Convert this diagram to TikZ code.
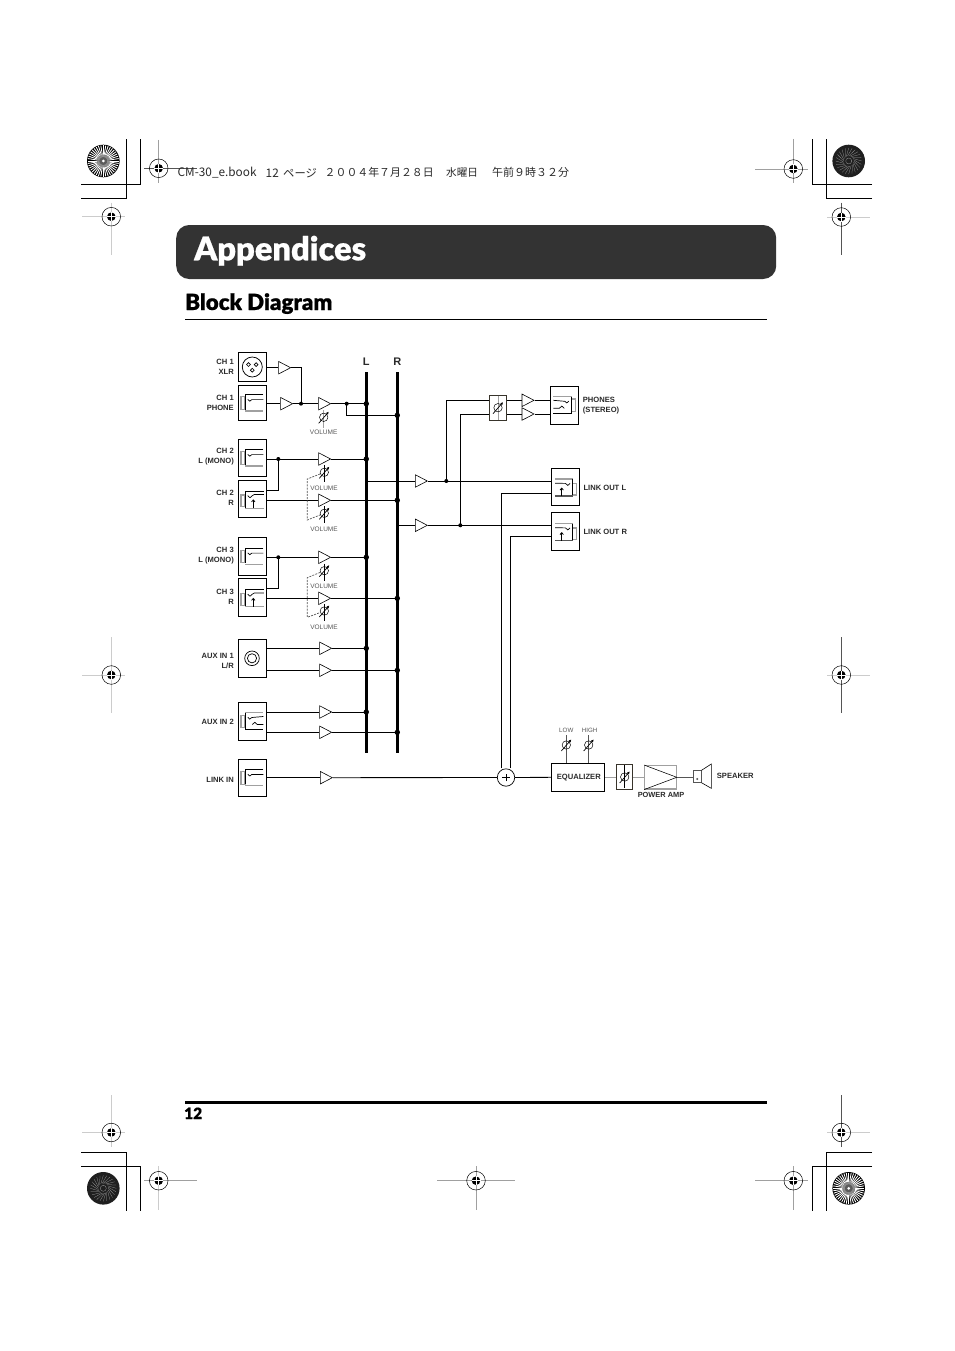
\documentclass[tikz,border=0pt]{standalone}
\usepackage{fontspec}
\setmainfont{Liberation Sans}
\newfontfamily\cjk{Noto Sans CJK JP}
\newfontfamily\headfont[BoldFont={* Black},BoldFeatures={FakeBold=0.6}]{Lato}
\usetikzlibrary{shapes.geometric,arrows.meta,calc}
\definecolor{ink}{HTML}{2A2A2A}
\definecolor{soft}{HTML}{555555}
\definecolor{midg}{HTML}{A0A0A0}
\definecolor{lightg}{HTML}{CCCCCC}
\definecolor{bar}{HTML}{333333}
\tikzset{
 wire/.style={line width=0.85pt,black},
 gwire/.style={line width=1pt,midg},
 busline/.style={line width=2.9pt,black},
 boxn/.style={draw,line width=0.85pt,fill=white,inner sep=0},
 amp/.style={isosceles triangle,isosceles triangle stretches,draw,line width=0.6pt,fill=white,inner sep=0,minimum width=12.5pt,minimum height=12pt,anchor=west},
 lab/.style={font=\fontsize{7.6}{10.2}\selectfont\bfseries,text=ink,inner sep=0,align=right,anchor=east},
 labl/.style={font=\fontsize{7.6}{10.2}\selectfont\bfseries,text=ink,inner sep=0,align=left,anchor=west},
 vol/.style={font=\fontsize{6.5}{7}\selectfont,text=soft,inner sep=0},
 dotn/.style={circle,fill=black,inner sep=0,minimum size=4pt},
 busdot/.style={circle,fill=black,inner sep=0,minimum size=5.4pt},
 gang/.style={line width=0.7pt,dash pattern=on 2pt off 1.2pt,soft},
 knobc/.style={circle,draw,line width=0.5pt,inner sep=0,minimum size=8.4pt},
 jack/.pic={
  \draw[line width=1.2pt,midg] (-7.3,-6.3) rectangle (-11.3,6.3);
  \draw[line width=0.75pt] (11,-8.6) -- (-7.3,-8.6) -- (-7.3,6.6);
  \draw[line width=1.1pt,midg] (-7.3,8) -- (11,8);
  \draw[line width=0.7pt] (-4.5,-3.6) -- (-2.5,-1.8) -- (-0.5,-3.4) -- (11,-3.4) ;
 },
 jackup/.pic={
  \draw[line width=1.2pt,midg] (-7.3,-4) rectangle (-11.3,7.7);
  \draw[line width=0.75pt] (-7.3,9.3) -- (-7.3,-8) -- (11.5,-8);
  \draw[line width=1.2pt,midg] (-7.3,9.3) -- (11.5,9.3);
  \draw[line width=0.7pt] (-4.6,-3.3) -- (-2.3,-1.3) -- (0,-3.3) -- (2,-4.5) -- (11.5,-4.5);
  \draw[line width=0.75pt,-{Straight Barb[length=2pt,width=3.4pt]}] (1,9.3) -- (1,0.3);
 },
 jackout/.pic={
  \draw[line width=1.2pt,midg] (-7.3,-3.5) rectangle (-11.3,8);
  \draw[line width=1.2pt,midg] (-7.3,-8) -- (10.5,-8);
  \draw[line width=0.75pt] (-7.3,-8) -- (-7.3,9) ;
  \draw[line width=1.1pt,soft] (-7.3,9) -- (10.5,9);
  \draw[line width=0.7pt] (-4.6,-3.6) -- (-2.3,-1.6) -- (0,-3.6) -- (10.5,-3.8);
  \draw[line width=0.75pt,-{Straight Barb[length=2pt,width=3.4pt]}] (3.8,9) -- (3.8,0.5);
 },
 jackst/.pic={
  \draw[line width=1.2pt,midg] (-7.3,-6.3) rectangle (-11.3,6.3);
  \draw[line width=0.75pt] (-7.3,-8.6) -- (-7.3,7.6) -- (11,7.6);
  \draw[line width=1.1pt,midg] (-7.3,-8.6) -- (11,-8.6);
  \draw[line width=0.7pt] (-4.5,-4.2) -- (-2.5,-2.4) -- (-0.5,-4) -- (11,-5);
  \draw[line width=0.7pt] (0,3) -- (2.5,0.8) -- (5,3) -- (11,3);
 },
}
\newcommand\knobat[6]{% name x y up down colour
 \draw[line width=0.7pt,#6] (#2,#3-#4) -- (#2,#3+#5);
 \node[knobc] (#1) at (#2,#3) {};
 \draw[line width=0.7pt,-{Latex[length=2.6pt,width=2.8pt]}] ([shift={(-5,6)}]#1.center) -- ([shift={(5,-5.5)}]#1.center);
}
\newcommand\regmark[8]{% x y left right top bottom hcol vcol
 \draw[line width=0.8pt,#7] (#3,#2) -- (#4,#2);
 \draw[line width=0.8pt,#8] (#1,#5) -- (#1,#6);
 \draw[line width=0.5pt,black] (#1,#2) circle (9.3);
 \fill[black] (#1,#2) circle (4.3);
 \draw[line width=0.8pt,white] (#1-4.5,#2) -- (#1+4.5,#2);
 \draw[line width=0.8pt,white] (#1,#2-4.5) -- (#1,#2+4.5);
}
\newcommand\burstlight[2]{%
 \fill[black] (#1,#2) circle (16.3);
 \foreach \a in {0,9,...,351}{\draw[line width=0.85pt,white] ([shift={(\a:4)}]#1,#2) -- ([shift={(\a:15.6)}]#1,#2);}
 \fill[black!55,opacity=0.8] (#1,#2) circle (6.5);
 \fill[white] (#1,#2) circle (1.5);
}
\newcommand\burstdark[2]{%
 \fill[black!88] (#1,#2) circle (16.3);
 \foreach \a in {0,15,...,345}{\draw[line width=0.25pt,midg] ([shift={(\a:5)}]#1,#2) -- ([shift={(\a+30:13)}]#1,#2);}
 \draw[line width=0.3pt,midg] (#1,#2) circle (3);
}
\begin{document}
\begin{tikzpicture}[x=1pt,y=-1pt]
\useasboundingbox (0,0) rectangle (954,1351);
\fill[white] (0,0) rectangle (954,1351);
% printer marks
\draw[line width=0.8pt] (81,184) -- (140.7,184) -- (140.7,139);
\draw[line width=0.8pt] (81,198.3) -- (126.3,198.3) -- (126.3,139);
\draw[line width=0.8pt] (872,184) -- (812,184) -- (812,139);
\draw[line width=0.8pt] (872,198.3) -- (826.3,198.3) -- (826.3,139);
\draw[line width=0.8pt] (81,1152.3) -- (126.3,1152.3) -- (126.3,1211);
\draw[line width=0.8pt] (81,1166.3) -- (140.7,1166.3) -- (140.7,1211);
\draw[line width=0.8pt] (872,1152.3) -- (826.3,1152.3) -- (826.3,1211);
\draw[line width=0.8pt] (872,1166.3) -- (812,1166.3) -- (812,1211);
\burstlight{103.3}{161}
\burstdark{848.7}{161}
\burstdark{103.3}{1188.3}
\burstlight{848.7}{1188.3}
\regmark{158.7}{168.3}{144}{197}{140}{183}{soft}{midg}
\regmark{111.3}{216.7}{82}{125}{202.7}{255}{lightg}{lightg}
\regmark{793.3}{169}{755}{807.7}{139}{183}{midg}{midg}
\regmark{841.3}{217}{827}{870}{202.7}{255}{lightg}{soft}
\regmark{111.3}{675}{82}{125}{637}{713}{lightg}{lightg}
\regmark{841.3}{675}{827}{870}{637}{713}{lightg}{soft}
\regmark{111.3}{1132.5}{82}{125}{1095}{1147}{lightg}{lightg}
\regmark{841.3}{1132.5}{827}{870}{1095}{1147}{lightg}{soft}
\regmark{158.7}{1180.7}{144}{197}{1166}{1210}{midg}{lightg}
\regmark{793.3}{1180.7}{755}{807.7}{1166}{1210}{midg}{midg}
\regmark{476}{1180.7}{437}{515}{1166}{1210}{midg}{midg}
% running head
\node[anchor=west,inner sep=0,font=\cjk\fontsize{11.8}{13}\selectfont,text=ink] (rh1) at (177.5,172.8) {CM-30\_e.book};
\node[anchor=west,inner sep=0,font=\cjk\fontsize{11.8}{13}\selectfont,text=ink] (rh2) at (265.5,172.8) {12};
\node[anchor=west,inner sep=0,font=\cjk\fontsize{11.3}{13}\selectfont,text=ink] (rh3) at (283,172.8) {ページ};
\node[anchor=west,inner sep=0,font=\cjk\fontsize{10.9}{13}\selectfont,text=ink] (rh4) at (324.5,172.8) {２００４年７月２８日};
\node[anchor=west,inner sep=0,font=\cjk\fontsize{10.6}{13}\selectfont,text=ink] (rh5) at (446,172.8) {水曜日};
\node[anchor=west,inner sep=0,font=\cjk\fontsize{11}{13}\selectfont,text=ink] (rh6) at (492,172.8) {午前９時３２分};
% title
\node[fill=bar,rounded corners=13pt,minimum width=600pt,minimum height=54pt,inner sep=0,anchor=west] (titlebar) at (176,252) {};
\node[anchor=base west,inner sep=0,font=\headfont\bfseries\fontsize{32.6}{34}\selectfont,text=white] (titletext) at (194,260.3) {Appendices};
\node[anchor=base west,inner sep=0,font=\headfont\bfseries\fontsize{22.3}{24}\selectfont,text=black] (subtitle) at (185,310) {Block Diagram};
\coordinate (ruleA) at (185,319.3); \coordinate (ruleB) at (767,319.3);
\draw[line width=1.4pt] (ruleA) -- (ruleB);
\coordinate (footA) at (185,1102.3); \coordinate (footB) at (767,1102.3);
\draw[line width=3.6pt] (footA) -- (footB);
\node[anchor=base west,inner sep=0,font=\headfont\bfseries\fontsize{15.5}{16}\selectfont] (pageno) at (184,1119) {12};

% buses
\coordinate (busLt) at (366.3,372.3); \coordinate (busLb) at (366.3,753.3);
\coordinate (busRt) at (397.3,372.3); \coordinate (busRb) at (397.3,753.3);
\node[font=\fontsize{11}{12}\selectfont\bfseries,text=ink,inner sep=0] (busLlab) at (366.3,361.7) {L};
\node[font=\fontsize{11}{12}\selectfont\bfseries,text=ink,inner sep=0] (busRlab) at (397.3,361.7) {R};

% input boxes
\node[boxn,minimum width=28pt,minimum height=28.6pt] (xlr) at (252.3,367) {};
\node[boxn,minimum width=28pt,minimum height=34.6pt] (ph1) at (252.3,403) {};
\node[boxn,minimum width=28pt,minimum height=36.6pt] (c2l) at (252.3,458) {};
\node[boxn,minimum width=28pt,minimum height=36.6pt] (c2r) at (252.3,499) {};
\node[boxn,minimum width=28pt,minimum height=37.6pt] (c3l) at (252.3,556.5) {};
\node[boxn,minimum width=28pt,minimum height=37.6pt] (c3r) at (252.3,597.5) {};
\node[boxn,minimum width=28pt,minimum height=37.4pt] (aux1) at (252.3,658.3) {};
\node[boxn,minimum width=28pt,minimum height=37.6pt] (aux2) at (252.3,721.5) {};
\node[boxn,minimum width=28pt,minimum height=37pt] (lnk) at (252.3,777.8) {};
% icons
\draw[line width=0.75pt] (xlr.center) circle (10);
\draw[line width=0.65pt] ([shift={(-3.8,-2.4)}]xlr.center) circle (1.9);
\draw[line width=0.65pt] ([shift={(3.8,-2.4)}]xlr.center) circle (1.9);
\draw[line width=0.65pt] ([shift={(0,3.2)}]xlr.center) circle (1.9);
\pic at (ph1.center) {jack};
\pic at (c2l.center) {jack};
\pic at (c2r.center) {jackup};
\pic at (c3l.center) {jack};
\pic at (c3r.center) {jackup};
\pic at (lnk.center) {jack};
\pic at (aux2.center) {jackst};
\draw[line width=0.7pt] ([xshift=-0.3pt]aux1.center) circle (7.3);
\draw[line width=0.7pt] ([xshift=-0.3pt]aux1.center) circle (4.6);

% labels left
\node[lab] (lxlr) at (234,366.7) {CH 1\\XLR};
\node[lab] (lph1) at (234,402.7) {CH 1\\PHONE};
\node[lab] (lc2l) at (234,456.8) {CH 2\\L (MONO)};
\node[lab] (lc2r) at (234,497.7) {CH 2\\R};
\node[lab] (lc3l) at (234,555.7) {CH 3\\L (MONO)};
\node[lab] (lc3r) at (234,596.7) {CH 3\\R};
\node[lab] (laux1) at (234,660.7) {AUX IN 1\\L/R};
\node[lab] (laux2) at (234,721.6) {AUX IN 2};
\node[lab] (llnk) at (234,779.6) {LINK IN};

% amps
\node[amp] (a1) at (278.3,367.7) {};
\node[amp] (a2) at (280.3,403.7) {};
\node[amp] (a3) at (318.3,403.7) {};
\node[amp] (a4) at (318.3,459) {};
\node[amp] (a5) at (318.3,500.3) {};
\node[amp] (a6) at (318.3,557.3) {};
\node[amp] (a7) at (318.3,598.3) {};
\node[amp] (a8) at (319.3,648.3) {};
\node[amp] (a9) at (319.3,670.3) {};
\node[amp] (a10) at (319.3,712) {};
\node[amp] (a11) at (319.3,732.3) {};
\node[amp] (a12) at (320,777.7) {};
\node[amp] (mixL) at (415,481) {};
\node[amp] (mixR) at (415,525.3) {};
\node[amp] (phL) at (521.7,400.3) {};
\node[amp] (phR) at (521.7,414) {};

% wires: inputs
\coordinate (j1) at (301,403.7);
\coordinate (j2) at (346.7,403.7);
\coordinate (j2d) at (346.7,415.3);
\coordinate (j3) at (278.3,459);
\coordinate (j3d) at (278.3,490.3);
\coordinate (j4) at (278.3,557.3);
\coordinate (j4d) at (278.3,588.3);
\draw[wire] (a1.west -| xlr.east) -- (a1.west);
\draw[wire] (a1.apex) -| (j1);
\draw[wire] (a2.west -| ph1.east) -- (a2.west);
\draw[wire] (a2.apex) -- (a3.west);
\draw[wire] (a3.apex) -- (a3.apex -| busLt);
\draw[wire] (j2) -- (j2d) -- (j2d -| busRt);
\draw[wire] (a4.west -| c2l.east) -- (a4.west);
\draw[wire] (a4.apex) -- (a4.apex -| busLt);
\draw[wire] (j3) -- (j3d) -- (j3d -| c2r.east);
\draw[wire] (a5.west -| c2r.east) -- (a5.west);
\draw[wire] (a5.apex) -- (a5.apex -| busRt);
\draw[wire] (a6.west -| c3l.east) -- (a6.west);
\draw[wire] (a6.apex) -- (a6.apex -| busLt);
\draw[wire] (j4) -- (j4d) -- (j4d -| c3r.east);
\draw[wire] (a7.west -| c3r.east) -- (a7.west);
\draw[wire] (a7.apex) -- (a7.apex -| busRt);
\draw[wire] (a8.west -| aux1.east) -- (a8.west);
\draw[wire] (a8.apex) -- (a8.apex -| busLt);
\draw[wire] (a9.west -| aux1.east) -- (a9.west);
\draw[wire] (a9.apex) -- (a9.apex -| busRt);
\draw[wire] (a10.west -| aux2.east) -- (a10.west);
\draw[wire] (a10.apex) -- (a10.apex -| busLt);
\draw[wire] (a11.west -| aux2.east) -- (a11.west);
\draw[wire] (a11.apex) -- (a11.apex -| busRt);
\draw[wire] (a12.west -| lnk.east) -- (a12.west);

% volume knobs
\knobat{k1}{323.7}{417.3}{7}{10.5}{midg}
\knobat{k2}{324.3}{472.3}{7}{10}{black}
\knobat{k3}{324.3}{513.3}{7}{10}{black}
\knobat{k4}{324.3}{570.7}{7}{10}{black}
\knobat{k5}{324.3}{611}{7}{10}{black}
\node[vol] (v1) at (323.7,432.5) {VOLUME};
\node[vol,fill=white] (v2) at (324,488.5) {VOLUME};
\node[vol] (v3) at (324,529.2) {VOLUME};
\node[vol,fill=white] (v4) at (324,586.5) {VOLUME};
\node[vol] (v5) at (324,627.5) {VOLUME};
\coordinate (g1a) at (307.3,479); \coordinate (g1b) at (307.3,520);
\coordinate (g2a) at (307.3,577.7); \coordinate (g2b) at (307.3,617.3);
\draw[gang] (k2) -- (g1a) -- (g1b) -- (k3);
\draw[gang] (k4) -- (g2a) -- (g2b) -- (k5);

% mix section
\coordinate (mLs) at (366.3,481); \coordinate (mRs) at (397.3,525.3);
\draw[wire] (mLs) -- (mixL.west);
\draw[wire] (mRs) -- (mixR.west);
\node[boxn,draw=black!80!olive,minimum width=17.4pt,minimum height=25.4pt] (vb) at (498,408) {};
\knobat{k6}{498}{407.7}{12}{12}{midg}
\node[boxn,minimum width=28pt,minimum height=38pt] (phn) at (564.3,405.3) {};
\node[boxn,minimum width=28.4pt,minimum height=37.4pt] (lol) at (565.5,487) {};
\node[boxn,minimum width=28.4pt,minimum height=38.4pt] (lor) at (565.5,531.5) {};
\pic[xscale=-1] at (phn.center) {jackst};
\pic[xscale=-1] at (lol.center) {jackout};
\pic[xscale=-1] at (lor.center) {jackout};
\coordinate (d1) at (446.3,481); \coordinate (d2) at (460.3,525.3);
\draw[wire] (mixL.apex) -- (mixL.apex -| lol.west);
\draw[wire] (mixR.apex) -- (mixR.apex -| lor.west);
\draw[wire] (d1) |- (phL.west -| vb.west);
\draw[wire] (d2) |- (phR.west -| vb.west);
\draw[wire] (phL.west -| vb.east) -- (phL.west);
\draw[wire] (phR.west -| vb.east) -- (phR.west);
\draw[wire] (phL.apex) -- (phL.apex -| phn.west);
\draw[wire] (phR.apex) -- (phR.apex -| phn.west);

% summing and output
\node[circle,draw,line width=0.7pt,fill=white,inner sep=0,minimum size=17.4pt] (sum) at (506,777.5) {};
\draw[line width=0.6pt] ([xshift=-3.8pt]sum.center) -- ([xshift=3.8pt]sum.center);
\draw[line width=0.6pt] ([yshift=-3.8pt]sum.center) -- ([yshift=3.8pt]sum.center);
\draw[wire] (a12.apex) -- (sum.west);
\coordinate (rL) at (501,493.3); \coordinate (rR) at (510.3,536.3);
\draw[wire] (sum.north -| rL) -- (rL) -- (rL -| lol.west);
\draw[wire] (sum.north -| rR) -- (rR) -- (rR -| lor.west);
\node[boxn,minimum width=53.4pt,minimum height=28pt] (eq) at (578,777.3) {};
\node[font=\fontsize{7.6}{8}\selectfont\bfseries,text=ink,inner sep=0] (eqt) at (578.8,777.3) {EQUALIZER};
\draw[wire] (sum.east) -- (eq.west);
\knobat{k7}{566.3}{745}{10}{18}{soft}
\knobat{k8}{588.7}{745}{10}{18}{soft}
\node[vol,font=\fontsize{6.2}{7}\selectfont] (tlow) at (566.3,730.5) {LOW};
\node[vol,font=\fontsize{6.2}{7}\selectfont] (thigh) at (589.7,730.5) {HIGH};
\node[boxn,draw=black!80!olive,minimum width=16pt,minimum height=25.4pt] (vb2) at (624.7,777) {};
\knobat{k9}{624.7}{777}{12}{11}{black}
\node[boxn,draw=midg,line width=1.1pt,minimum width=31.6pt,minimum height=23.4pt] (pa) at (660.5,777.3) {};
\draw[line width=0.55pt] (pa.north west) -- (pa.east) -- (pa.south west);
\draw[gwire] (eq.east |- vb2.west) -- (vb2.west);
\draw[gwire] (vb2.east) -- (vb2.east -| pa.west);
\node[boxn,draw=soft,line width=0.7pt,minimum width=7.7pt,minimum height=11.6pt] (spk) at (697.2,776.5) {};
\fill[soft] ([yshift=-2.5pt]spk.center) circle (1.2);
\draw[line width=0.6pt] (spk.north east) -- (711.3,764) -- (711.3,788.3) -- (spk.south east);
\draw[line width=0.8pt,soft] (pa.east) -- (pa.east -| spk.west);
\node[labl] (lspk) at (716.7,775.7) {SPEAKER};
\node[font=\fontsize{7.4}{8}\selectfont\bfseries,text=ink,inner sep=0] (lpa) at (661,795.2) {POWER AMP};
\node[labl] (lphn) at (582.7,405.5) {PHONES\\(STEREO)};
\node[labl] (llol) at (583.3,487.7) {LINK OUT L};
\node[labl] (llor) at (583.3,531.7) {LINK OUT R};

% buses on top of wires, then junction dots
\draw[busline] (busLt) -- (busLb);
\draw[busline] (busRt) -- (busRb);
\foreach \c in {j1,j2,j3,j4,d1,d2}{\node[dotn] at (\c) {};}
\foreach \c in {a3,a4,a6,a8,a10}{\node[busdot] at (\c.apex -| busLt) {};}
\foreach \c in {a5,a7,a9,a11}{\node[busdot] at (\c.apex -| busRt) {};}
\node[busdot] at (j2d -| busRt) {};
\end{tikzpicture}
\end{document}
